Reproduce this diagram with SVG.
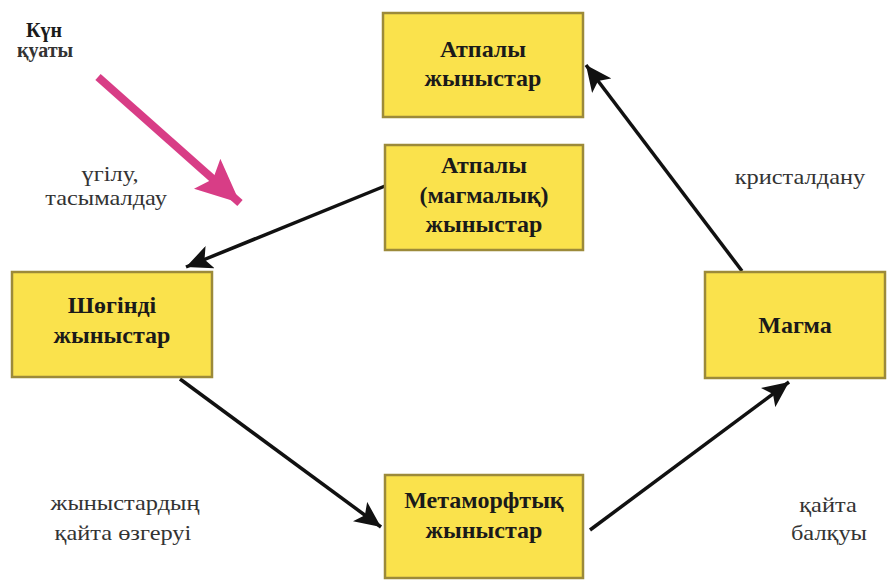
<svg xmlns="http://www.w3.org/2000/svg" width="894" height="583" viewBox="0 0 894 583">
<style>
.box{fill:#fae24c;stroke:#9c8a3a;stroke-width:2.5}
.bt{font-family:'Liberation Serif','Times New Roman','DejaVu Serif',serif;font-weight:bold;font-size:24px;fill:#1a1a1a;text-anchor:middle}
.lb{font-family:'Liberation Serif','Times New Roman','DejaVu Serif',serif;font-size:20px;fill:#333;text-anchor:middle}
.con{stroke:#111;stroke-width:3.5;fill:none;marker-end:url(#ah)}
</style>
<defs>
<marker id="ah" markerUnits="userSpaceOnUse" markerWidth="28" markerHeight="24" refX="26" refY="12" orient="auto">
<path d="M0,0 L26,12 L0,24 L6,12 Z" fill="#111"/>
</marker>
<marker id="ph" markerUnits="userSpaceOnUse" markerWidth="46" markerHeight="40" refX="44" refY="20" orient="auto">
<path d="M0,0 L44,20 L0,40 L8,20 Z" fill="#d83d86"/>
</marker>
</defs>
<rect width="894" height="583" fill="#fff"/>
<g id="connectors">
<line class="con" x1="385" y1="186" x2="186" y2="267"/>
<line class="con" x1="742" y1="271" x2="586" y2="65"/>
<line class="con" x1="180" y1="379" x2="381" y2="527"/>
<line class="con" x1="590" y1="530" x2="789" y2="382"/>
<line x1="98" y1="77" x2="240" y2="203" stroke="#d83d86" stroke-width="8" marker-end="url(#ph)"/>
</g>
<g id="atpaly">
<rect class="box" x="383" y="13" width="200" height="104"/>
<text class="bt" x="483" y="57">Атпалы</text>
<text class="bt" x="483" y="86">жыныстар</text>
</g>
<g id="atpaly-magmalyq">
<rect class="box" x="385" y="145" width="198" height="105"/>
<text class="bt" x="484" y="173">Атпалы</text>
<text class="bt" x="484" y="203">(магмалық)</text>
<text class="bt" x="484" y="232">жыныстар</text>
</g>
<g id="shogindi">
<rect class="box" x="12" y="272" width="200" height="105"/>
<text class="bt" x="112" y="313">Шөгінді</text>
<text class="bt" x="112" y="343">жыныстар</text>
</g>
<g id="magma">
<rect class="box" x="705" y="272" width="180" height="106"/>
<text class="bt" x="795" y="333">Магма</text>
</g>
<g id="metamorf">
<rect class="box" x="385" y="475" width="198" height="103"/>
<text class="bt" x="484" y="508">Метаморфтық</text>
<text class="bt" x="484" y="538">жыныстар</text>
</g>
<g id="sun">
<text class="bt" x="44" y="37" style="font-size:20px">Күн</text>
<text class="bt" x="45" y="57" style="font-size:20px;fill:#333">қуаты</text>
</g>
<g id="labels" transform="scale(1.22,1)">
<text class="lb" x="90.2" y="181">үгілу,</text>
<text class="lb" x="86.9" y="205">тасымалдау</text>
<text class="lb" x="655.7" y="184">кристалдану</text>
<text class="lb" x="102.5" y="510">жыныстардың</text>
<text class="lb" x="100.8" y="540">қайта өзгеруі</text>
<text class="lb" x="678.7" y="512">қайта</text>
<text class="lb" x="679.5" y="540">балқуы</text>
</g>
</svg>
